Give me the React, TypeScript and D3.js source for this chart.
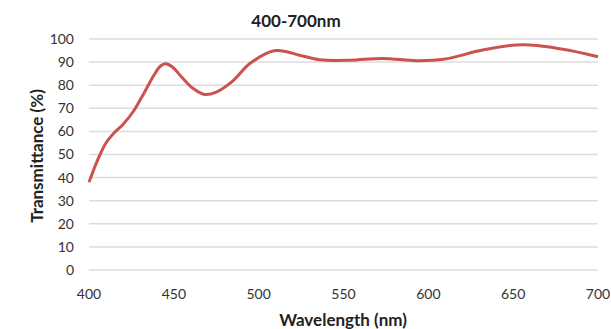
import * as d3 from "d3";
import { useEffect, useRef } from "react";

// wavelength (nm) and transmittance (%)
const wavelengths = [400, 405, 410, 415, 420, 426, 432, 438, 442, 445, 449, 455, 461, 468, 475, 485, 495, 510, 524, 536, 554, 573, 593, 609, 632, 652, 664, 682, 700];
const transmittance = [38, 47.5, 55, 59.5, 63, 68.5, 76, 84, 88.2, 89.3, 88, 83.2, 78.8, 76, 77, 82, 89.5, 95, 93, 91, 90.8, 91.6, 90.6, 91.2, 95.2, 97.4, 97.2, 95.2, 92.3];

const xTicks = [400, 450, 500, 550, 600, 650, 700];
const yTicks = [0, 10, 20, 30, 40, 50, 60, 70, 80, 90, 100];

const title = "400-700nm";
const xLabel = "Wavelength (nm)";
const yLabel = "Transmittance (%)";

const width = 611;
const height = 329;
const margin = { top: 39, right: 13, bottom: 59, left: 89 };
const font = "Lato, 'Open Sans', sans-serif";

const App = () => {
    const chartRef = useRef<SVGSVGElement>(null);

    useEffect(() => {
        const svg = d3.select(chartRef.current);
        svg.selectAll("*").remove();

        const boundsWidth = width - margin.left - margin.right;
        const boundsHeight = height - margin.top - margin.bottom;

        const scaleX = d3.scaleLinear().domain([400, 700]).range([0, boundsWidth]);
        const scaleY = d3.scaleLinear().domain([0, 100]).range([boundsHeight, 0]);

        const g = svg.append("g").attr("transform", `translate(${margin.left}, ${margin.top})`);

        // горизонтальная сетка
        g.selectAll(".grid")
            .data(yTicks)
            .enter()
            .append("line")
            .attr("x1", 0)
            .attr("x2", boundsWidth)
            .attr("y1", d => scaleY(d))
            .attr("y2", d => scaleY(d))
            .style("stroke", "#dcdcdc")
            .style("stroke-width", 1.5);

        // подписи оси Y
        g.selectAll(".ytick")
            .data(yTicks)
            .enter()
            .append("text")
            .attr("x", -15)
            .attr("y", d => scaleY(d))
            .attr("dy", "0.35em")
            .style("text-anchor", "end")
            .style("font-family", font)
            .style("font-size", "14px")
            .style("fill", "#333")
            .text(d => d);

        // подписи оси X
        g.selectAll(".xtick")
            .data(xTicks)
            .enter()
            .append("text")
            .attr("x", d => scaleX(d))
            .attr("y", boundsHeight + 24)
            .attr("dy", "0.35em")
            .style("text-anchor", "middle")
            .style("font-family", font)
            .style("font-size", "14px")
            .style("fill", "#333")
            .text(d => d);

        // кривая пропускания
        const points: [number, number][] = wavelengths.map((w, i) => [w, transmittance[i]]);
        const line = d3.line<[number, number]>()
            .x(d => scaleX(d[0]))
            .y(d => scaleY(d[1]))
            .curve(d3.curveCatmullRom.alpha(0.5));

        g.append("path")
            .datum(points)
            .attr("d", line)
            .style("fill", "none")
            .style("stroke", "#cc524c")
            .style("stroke-width", 3)
            .style("stroke-linejoin", "round");

        // заголовок и названия осей
        svg.append("text")
            .attr("x", 296)
            .attr("y", 21)
            .attr("dy", "0.35em")
            .style("text-anchor", "middle")
            .style("font-family", font)
            .style("font-weight", "bold")
            .style("font-size", "17px")
            .style("fill", "#222")
            .text(title);

        svg.append("text")
            .attr("x", 343)
            .attr("y", 320)
            .attr("dy", "0.35em")
            .style("text-anchor", "middle")
            .style("font-family", font)
            .style("font-weight", "bold")
            .style("font-size", "17px")
            .style("fill", "#222")
            .text(xLabel);

        svg.append("text")
            .attr("transform", `translate(37, 156) rotate(-90)`)
            .attr("dy", "0.35em")
            .style("text-anchor", "middle")
            .style("font-family", font)
            .style("font-weight", "bold")
            .style("font-size", "17px")
            .style("fill", "#222")
            .text(yLabel);
    }, []);

    return (
        <div style={{ position: "fixed", left: 0, top: 0 }}>
            <svg ref={chartRef} width={width} height={height} style={{ display: "block", background: "#fff" }}></svg>
        </div>
    );
};

export default App;
